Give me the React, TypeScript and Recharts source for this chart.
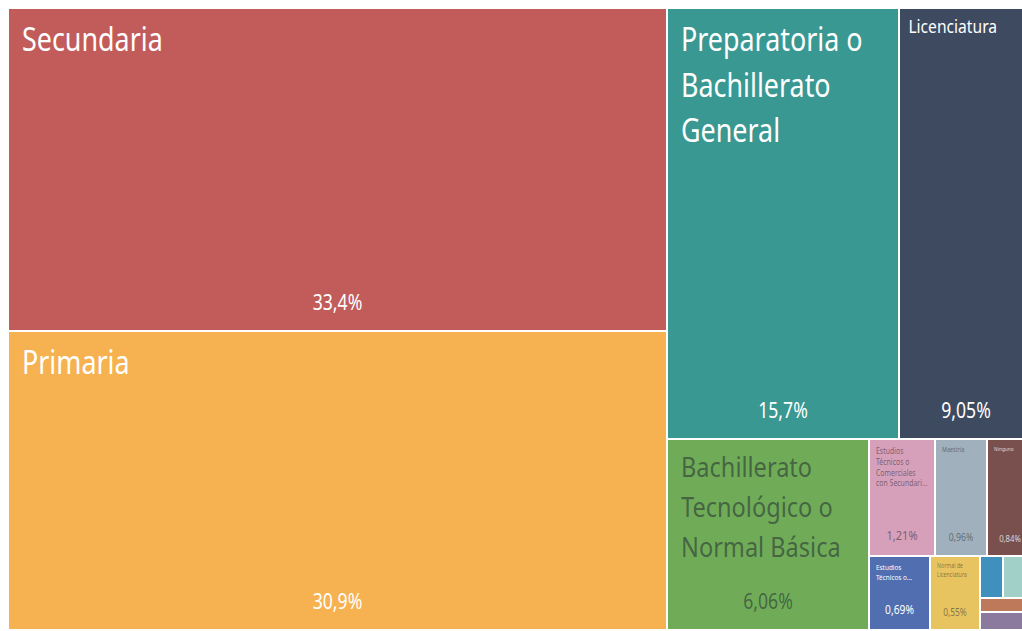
import { Treemap } from 'recharts';

// nivel de escolaridad
const levels = [
  'Secundaria',
  'Primaria',
  'Preparatoria o Bachillerato General',
  'Licenciatura',
  'Bachillerato Tecnológico o Normal Básica',
  'Estudios Técnicos o Comerciales con Secundaria Terminada',
  'Maestría',
  'Ninguno',
  'Estudios Técnicos o Comerciales con Preparatoria Terminada',
  'Normal de Licenciatura',
  'Doctorado',
  'Preescolar',
  'Estudios Técnicos o Comerciales con Primaria Terminada',
  'No especificado',
];

// area of each tile (share, %)
const shares = [33.4, 30.9, 15.7, 9.05, 6.06, 1.21, 0.96, 0.84, 0.71, 0.58, 0.15, 0.2, 0.12, 0.12];

// printed percentage labels
const shareLabels = [
  '33,4%', '30,9%', '15,7%', '9,05%', '6,06%', '1,21%', '0,96%',
  '0,84%', '0,69%', '0,55%', '0,15%', '0,2%', '0,12%', '0,12%',
];

const colors = [
  '#C15C5A', '#F6B250', '#3A9892', '#3E4A60', '#70AC58', '#D6A0BA', '#A0B0BC',
  '#7A504E', '#506EB0', '#E8C460', '#4090BE', '#A0D0C8', '#BE785A', '#8C7A9E',
];

const textColors = [
  '#FFFFFF', '#FFFFFF', '#FFFFFF', '#FFFFFF', 'rgba(45,60,55,0.65)', 'rgba(60,50,60,0.6)',
  'rgba(50,60,70,0.6)', 'rgba(255,255,255,0.75)', '#FFFFFF', 'rgba(60,60,50,0.6)',
  '#FFFFFF', 'rgba(40,60,60,0.6)', '#FFFFFF', '#FFFFFF',
];

const data = levels.map((name, i) => ({ name, value: shares[i], label: shareLabels[i] }));

const FONT = "'Noto Sans', sans-serif";
// no condensed face installed, so squeeze the glyphs horizontally
const SX = 0.84;

let ctx: CanvasRenderingContext2D | null = null;
function textWidth(s: string, fs: number) {
  if (!ctx) ctx = document.createElement('canvas').getContext('2d');
  if (!ctx) return s.length * fs * 0.5 * SX;
  ctx.font = `${fs}px ${FONT}`;
  return ctx.measureText(s).width * SX;
}

function wrap(text: string, maxW: number, fs: number, maxLines: number) {
  const words = text.split(' ');
  const lines: string[] = [];
  let cur = '';
  for (const w of words) {
    const test = cur ? cur + ' ' + w : w;
    if (!cur || textWidth(test, fs) <= maxW) cur = test;
    else {
      lines.push(cur);
      cur = w;
    }
  }
  if (cur) lines.push(cur);
  if (lines.length > maxLines) {
    const kept = lines.slice(0, maxLines);
    if (maxLines > 0) {
      let last = kept[maxLines - 1];
      while (last.length > 1 && textWidth(last + '...', fs) > maxW) last = last.slice(0, -1);
      kept[maxLines - 1] = last + '...';
    }
    return kept;
  }
  return lines;
}

function Tile(props: any) {
  const { x, y, width, height, depth, index, name, label } = props;
  if (depth !== 1) return <g />;
  const fill = colors[index % colors.length];
  const tc = textColors[index % textColors.length];
  const big = width >= 110;
  const fs = big ? Math.min(32, width / 7.2) : Math.max(5, width / 8);
  const pfs = Math.min(21, width / 5);
  const pad = big ? Math.min(14, width * 0.07) : 7;
  const lh = fs * (big ? 1.42 : 1.3);
  const pctY = y + height - (pfs * 0.55 + 9);
  const firstBase = y + fs * 1.35 + (big ? 0 : 4);
  const roomLines = Math.floor((pctY - pfs - firstBase) / lh) + 1;
  const maxLines = Math.max(0, big ? roomLines : Math.min(roomLines, Math.floor(height / 28)));
  const showText = width > 40 && height > 40;
  const lines = showText ? wrap(name, width - pad * 2, fs, maxLines) : [];
  return (
    <g>
      <rect x={x} y={y} width={width} height={height} fill={fill} stroke="#FFFFFF" strokeWidth={2} />
      {lines.map((l, i) => (
        <text
          key={i}
          transform={`translate(${x + pad},${firstBase + i * lh}) scale(${SX},1)`}
          fontSize={fs}
          fill={tc}
          fontFamily={FONT}
        >
          {l}
        </text>
      ))}
      {showText && (
        <text
          transform={`translate(${x + width / 2},${pctY}) scale(${SX},1)`}
          fontSize={pfs}
          fill={tc}
          fontFamily={FONT}
          textAnchor="middle"
        >
          {label}
        </text>
      )}
    </g>
  );
}

export default function App() {
  return (
    <div
      style={{
        position: 'fixed',
        left: 8,
        top: 8,
        width: 1014,
        height: 623,
        overflow: 'hidden',
        background: '#FFFFFF',
      }}
    >
      <Treemap
        width={1025}
        height={622}
        data={data}
        dataKey="value"
        nameKey="name"
        isAnimationActive={false}
        content={(p: any) => <Tile {...p} />}
      />
    </div>
  );
}
